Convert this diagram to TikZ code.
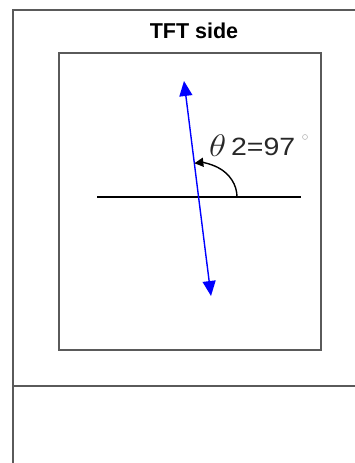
\documentclass[tikz,border=0pt]{standalone}
\usepackage{fontspec}
\setmainfont{Liberation Sans}
\usepackage{tikz}
\usetikzlibrary{arrows.meta,positioning}
\definecolor{framegray}{RGB}{90, 90, 90}
\definecolor{textgray}{RGB}{40, 40, 40}

\begin{document}
\begin{tikzpicture}[x=1pt, y=1pt, frame/.style={draw=framegray, line width=1.3pt}]
                \useasboundingbox (0,0) rectangle (355,463);
                % outer frame
                \coordinate (ftop) at (355,453);
                \coordinate (fcorner) at (13,453);
                \coordinate (fbottom) at (13,0);
                \coordinate (divl) at (13,77);
                \coordinate (divr) at (355,77);
                \draw[frame] (ftop) -- (fcorner) -- (fbottom);
                \draw[frame] (divl) -- (divr);
                \node[font=\bfseries\fontsize{21.5}{24}\selectfont, text=black] (title) at (194,432) {TFT side};
                % inner box
                \node[frame, minimum width=262, minimum height=297, inner sep=0] (panel) at (190,261.5) {};
                % horizontal reference
                \coordinate (hl) at (97,266);
                \coordinate (hr) at (301,266);
                \draw[black, line width=1.8pt] (hl) -- (hr);
                % polarizer axis
                \coordinate (axtop) at (184,382);
                \coordinate (axbot) at (211,167);
                \draw[blue, line width=1.4pt, {Triangle[length=15pt,width=13pt]}-{Triangle[length=15pt,width=13pt]}] (axtop) -- (axbot);
                % angle
                \coordinate (center) at (199,266);
                \draw[black, line width=1.4pt, -{Triangle[length=9pt,width=9pt]}] (237,266) arc[start angle=0, end angle=97, x radius=38, y radius=34];
                \node[anchor=west, inner sep=0, text=textgray, font=\fontsize{25}{28}\selectfont, xscale=1.14, transform shape] (angle) at (209,317) {\raisebox{-1pt}{\scalebox{1.25}{$\theta$}}\,2=97};
                \node[circle, draw=gray!55, line width=0.6pt, minimum size=5pt, inner sep=0] (degree) at (305,326) {};
\end{tikzpicture}
\end{document}
